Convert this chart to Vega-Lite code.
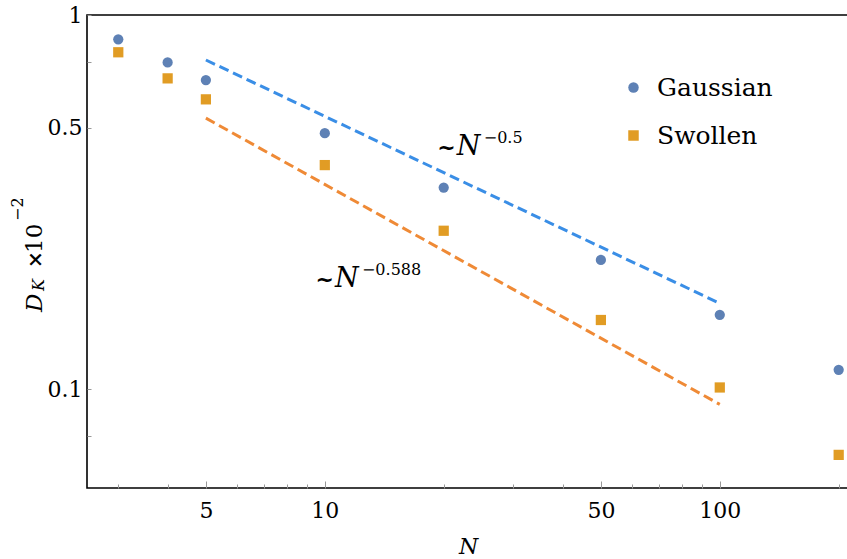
{
  "$schema": "https://vega.github.io/schema/vega-lite/v6.json",
  "width": 762,
  "height": 473,
  "autosize": {"type": "none"},
  "padding": {"left": 87, "top": 15, "right": 0, "bottom": 71},
  "background": "white",
  "config": {"view": {"stroke": "black", "strokeWidth": 1.6}, "font": "DejaVu Serif"},
  "datasets": {
    "points": [
      {"N": 3, "D": 0.861, "series": "Gaussian"},
      {"N": 4, "D": 0.747, "series": "Gaussian"},
      {"N": 5, "D": 0.670, "series": "Gaussian"},
      {"N": 10, "D": 0.483, "series": "Gaussian"},
      {"N": 20, "D": 0.3456, "series": "Gaussian"},
      {"N": 50, "D": 0.2215, "series": "Gaussian"},
      {"N": 100, "D": 0.158, "series": "Gaussian"},
      {"N": 200, "D": 0.1126, "series": "Gaussian"},
      {"N": 3, "D": 0.795, "series": "Swollen"},
      {"N": 4, "D": 0.677, "series": "Swollen"},
      {"N": 5, "D": 0.595, "series": "Swollen"},
      {"N": 10, "D": 0.397, "series": "Swollen"},
      {"N": 20, "D": 0.265, "series": "Swollen"},
      {"N": 50, "D": 0.153, "series": "Swollen"},
      {"N": 100, "D": 0.101, "series": "Swollen"},
      {"N": 200, "D": 0.0667, "series": "Swollen"}
    ],
    "fits": [
      {"N": 5, "D": 0.758, "fit": "Gaussian"},
      {"N": 100, "D": 0.1695, "fit": "Gaussian"},
      {"N": 5, "D": 0.530, "fit": "Swollen"},
      {"N": 100, "D": 0.0910, "fit": "Swollen"}
    ],
    "notes": [
      {"N": 21.58, "D": 0.4224, "tilde": "~", "base": "N", "exp": "−0.5"},
      {"N": 10.61, "D": 0.1878, "tilde": "~", "base": "N", "exp": "−0.588"}
    ],
    "ytitle": [
      {"N": 1.923, "D": 0.1608, "d": "D", "k": "K", "times": "×", "ten": "10", "exp": "−2"}
    ]
  },
  "encoding": {
    "x": {
      "field": "N",
      "type": "quantitative",
      "scale": {"type": "log", "domain": [2.5, 212.4], "nice": false},
      "title": "N",
      "axis": {
        "values": [3, 4, 5, 6, 7, 8, 9, 10, 20, 30, 40, 50, 60, 70, 80, 90, 100, 200],
        "labelExpr": "(datum.value == 5 || datum.value == 10 || datum.value == 50 || datum.value == 100) ? format(datum.value, 'd') : ''",
        "tickSize": {"condition": {"test": "datum.value == 5 || datum.value == 10 || datum.value == 50 || datum.value == 100", "value": -7}, "value": -4},
        "tickColor": "#999999",
        "tickWidth": 1,
        "domain": false,
        "grid": false,
        "labelFont": "DejaVu Serif",
        "labelFontSize": 22,
        "labelColor": "black",
        "labelPadding": 19,
        "labelFlush": false,
        "labelOverlap": false,
        "titleFont": "DejaVu Serif",
        "titleFontStyle": "italic",
        "titleFontWeight": "normal",
        "titleFontSize": 22,
        "titleColor": "black",
        "titlePadding": 12
      }
    },
    "y": {
      "field": "D",
      "type": "quantitative",
      "scale": {"type": "log", "domain": [0.0544, 1], "nice": false},
      "title": null,
      "axis": {
        "values": [0.075, 0.1, 0.5, 0.75, 1],
        "labelExpr": "datum.value == 0.1 ? '0.1' : datum.value == 0.5 ? '0.5' : datum.value == 1 ? '1' : ''",
        "tickSize": -4,
        "tickColor": "#999999",
        "tickWidth": 1,
        "domain": false,
        "grid": false,
        "labelFont": "DejaVu Serif",
        "labelFontSize": 22,
        "labelColor": "black",
        "labelPadding": 9,
        "labelFlush": false,
        "labelOverlap": false
      }
    }
  },
  "layer": [
    {
      "data": {"name": "fits"},
      "transform": [{"filter": "datum.fit == 'Gaussian'"}],
      "mark": {"type": "line", "strokeDash": [10, 5], "strokeWidth": 3, "color": "#3a8ee6"},
      "encoding": {}
    },
    {
      "data": {"name": "fits"},
      "transform": [{"filter": "datum.fit == 'Swollen'"}],
      "mark": {"type": "line", "strokeDash": [10, 5], "strokeWidth": 3, "color": "#ef8a36"},
      "encoding": {}
    },
    {
      "data": {"name": "points"},
      "mark": {"type": "point", "filled": true, "opacity": 1, "size": 105},
      "encoding": {
        "color": {
          "field": "series", "type": "nominal",
          "scale": {"domain": ["Gaussian", "Swollen"], "range": ["#5E81B5", "#E19C24"]},
          "legend": {"orient": "none", "legendX": 534, "legendY": 60, "title": null, "labelFont": "DejaVu Serif", "labelFontSize": 25, "labelColor": "black", "symbolSize": 110, "rowPadding": 22, "labelOffset": 11, "padding": 0, "symbolStrokeWidth": 0}
        },
        "shape": {
          "field": "series", "type": "nominal",
          "scale": {"domain": ["Gaussian", "Swollen"], "range": ["circle", "square"]}
        }
      }
    },
    {
      "data": {"name": "notes"},
      "mark": {"type": "text", "align": "right", "baseline": "alphabetic", "fontSize": 22, "fontWeight": "bold", "color": "black", "dx": -1},
      "encoding": {"text": {"field": "tilde"}}
    },
    {
      "data": {"name": "notes"},
      "mark": {"type": "text", "align": "left", "baseline": "alphabetic", "fontSize": 27, "fontStyle": "italic", "color": "black"},
      "encoding": {"text": {"field": "base"}}
    },
    {
      "data": {"name": "notes"},
      "mark": {"type": "text", "align": "left", "baseline": "alphabetic", "fontSize": 16, "color": "black", "dx": 27, "dy": -12},
      "encoding": {"text": {"field": "exp"}}
    },
    {
      "data": {"name": "ytitle"},
      "mark": {"type": "text", "align": "left", "baseline": "alphabetic", "angle": 270, "fontSize": 23, "fontStyle": "italic", "color": "black"},
      "encoding": {"text": {"field": "d"}}
    },
    {
      "data": {"name": "ytitle"},
      "mark": {"type": "text", "align": "left", "baseline": "alphabetic", "angle": 270, "fontSize": 16, "fontStyle": "italic", "color": "black", "dx": 21, "dy": 2},
      "encoding": {"text": {"field": "k"}}
    },
    {
      "data": {"name": "ytitle"},
      "mark": {"type": "text", "align": "left", "baseline": "alphabetic", "angle": 270, "fontSize": 20, "fontWeight": "bold", "color": "black", "dx": 44},
      "encoding": {"text": {"field": "times"}}
    },
    {
      "data": {"name": "ytitle"},
      "mark": {"type": "text", "align": "left", "baseline": "alphabetic", "angle": 270, "fontSize": 23, "color": "black", "dx": 59},
      "encoding": {"text": {"field": "ten"}}
    },
    {
      "data": {"name": "ytitle"},
      "mark": {"type": "text", "align": "left", "baseline": "alphabetic", "angle": 270, "fontSize": 16, "color": "black", "dx": 91, "dy": -19},
      "encoding": {"text": {"field": "exp"}}
    }
  ]
}
